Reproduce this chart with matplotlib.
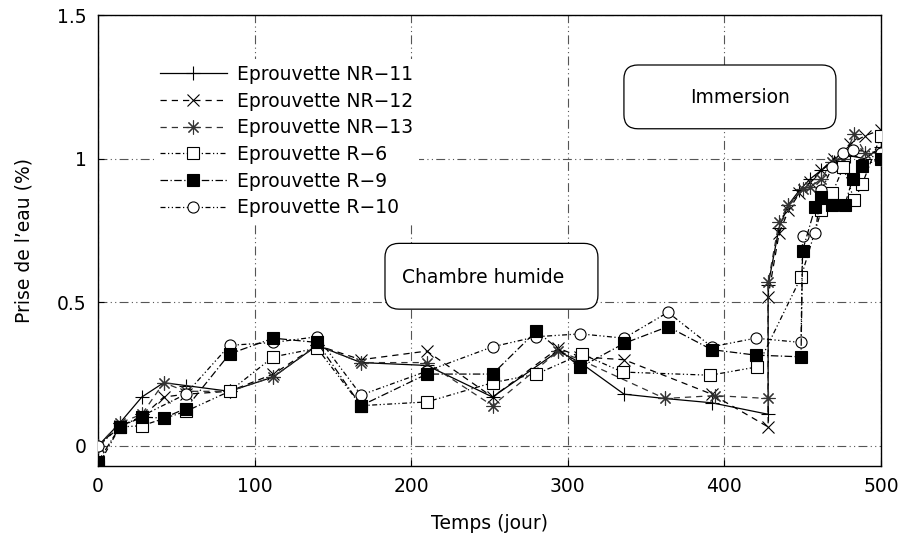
import matplotlib

matplotlib.use("Agg")

import matplotlib.pyplot as plt
from matplotlib.patches import FancyBboxPatch

plt.rcParams["font.family"] = ["DejaVu Sans"]

# --- data -------------------------------------------------------------------
nr11_days = [0, 14, 28, 42, 56, 84, 112, 140, 168, 210, 252, 294, 308, 336, 362, 392, 428,
             428, 435, 441, 448, 455, 462, 470, 480, 490, 500]
nr11_vals = [0.0, 0.08, 0.17, 0.22, 0.21, 0.19, 0.24, 0.35, 0.29, 0.28, 0.17, 0.33, 0.29, 0.18,
             0.165, 0.15, 0.11, 0.56, 0.76, 0.84, 0.89, 0.93, 0.96, 0.99, 1.01, 1.0, 1.04]

nr12_days = [0, 14, 28, 42, 56, 84, 112, 140, 168, 210, 252, 294, 308, 336, 392, 428,
             428, 435, 441, 448, 455, 462, 470, 480, 490, 500]
nr12_vals = [0.0, 0.07, 0.1, 0.17, 0.18, 0.19, 0.25, 0.35, 0.3, 0.33, 0.17, 0.34, 0.31, 0.3,
             0.18, 0.066, 0.52, 0.74, 0.82, 0.88, 0.92, 0.96, 1.0, 1.05, 1.08, 1.1]

nr13_days = [0, 14, 28, 42, 56, 84, 112, 140, 168, 210, 252, 294, 308, 362, 394, 428,
             428, 435, 441, 450, 455, 462, 469, 476, 483, 490, 500]
nr13_vals = [0.0, 0.08, 0.11, 0.22, 0.19, 0.19, 0.24, 0.35, 0.29, 0.29, 0.14, 0.33, 0.3,
             0.165, 0.175, 0.165, 0.57, 0.78, 0.84, 0.895, 0.9, 0.93, 0.99, 1.0, 1.085, 1.02, 1.0]

r6_days = [0, 14, 28, 56, 84, 112, 140, 168, 210, 252, 280, 309, 335, 391, 421, 449,
           462, 469, 476, 483, 488, 500]
r6_vals = [-0.07, 0.066, 0.07, 0.12, 0.19, 0.31, 0.34, 0.14, 0.153, 0.22, 0.25, 0.32, 0.257,
           0.246, 0.275, 0.587, 0.82, 0.88, 0.97, 0.855, 0.91, 1.08]

r9_days = [0, 14, 28, 42, 56, 84, 112, 140, 168, 210, 252, 280, 308, 336, 364, 392, 420, 449,
           450, 458, 462, 469, 477, 482, 488, 500]
r9_vals = [-0.055, 0.066, 0.1, 0.097, 0.13, 0.32, 0.375, 0.36, 0.14, 0.25, 0.25, 0.4, 0.274,
           0.357, 0.415, 0.335, 0.316, 0.31, 0.68, 0.83, 0.865, 0.84, 0.84, 0.93, 0.975, 1.0]

r10_days = [0, 14, 56, 84, 112, 140, 168, 210, 252, 280, 308, 336, 364, 392, 420, 449,
            450, 458, 462, 469, 476, 482, 500]
r10_vals = [0.0, 0.066, 0.18, 0.35, 0.36, 0.38, 0.177, 0.26, 0.345, 0.38, 0.39, 0.375, 0.465,
            0.345, 0.375, 0.36, 0.73, 0.74, 0.89, 0.97, 1.02, 1.03, 1.02]

series = [
    ("Eprouvette NR\u221211", nr11_days, nr11_vals),
    ("Eprouvette NR\u221212", nr12_days, nr12_vals),
    ("Eprouvette NR\u221213", nr13_days, nr13_vals),
    ("Eprouvette R\u22126", r6_days, r6_vals),
    ("Eprouvette R\u22129", r9_days, r9_vals),
    ("Eprouvette R\u221210", r10_days, r10_vals),
]

styles = [
    dict(color="black", linestyle="-", marker="+", markersize=10, mfc="none"),
    dict(color="black", linestyle=(0, (5, 4)), marker="x", markersize=8, mfc="none"),
    dict(color="#333333", linestyle=(0, (5, 4)), marker=(8, 2, 0), markersize=10, mfc="none"),
    dict(color="black", linestyle=(0, (4, 2, 1, 2, 1, 2)), marker="s", markersize=8, mfc="white"),
    dict(color="black", linestyle=(0, (6, 2, 1, 2)), marker="s", markersize=8, mfc="black"),
    dict(color="black", linestyle=(0, (4, 2, 1, 2, 1, 2)), marker="o", markersize=8, mfc="white"),
]
zorders = [3, 3, 3, 4, 6, 5]

FS = 13.5

fig = plt.figure(figsize=(9.03, 5.44), dpi=100)
ax = fig.add_axes([0.1085, 0.1434, 0.867, 0.829])

for (label, days, vals), style, z in zip(series, styles, zorders):
    ax.plot(days, vals, label=label, linewidth=0.9, markeredgewidth=0.8, zorder=z, **style)

ax.set_xlim(0, 500)
ax.set_ylim(-0.07, 1.5)
ax.set_xticks([0, 100, 200, 300, 400, 500])
ax.set_yticks([0, 0.5, 1, 1.5])
ax.set_yticklabels(["0", "0.5", "1", "1.5"])
ax.tick_params(labelsize=FS, direction="in", length=4, pad=8)
ax.grid(True, color="#555555", linestyle=(0, (8, 3, 1, 3, 1, 3)), linewidth=0.8)
ax.set_axisbelow(True)
for spine in ax.spines.values():
    spine.set_linewidth(1.0)

ax.set_xlabel("Temps (jour)", fontsize=FS, labelpad=13)
ax.set_ylabel("Prise de l\u2019eau (%)", fontsize=FS, labelpad=17)

# rounded annotation boxes, sized in pixels -> data units
px_x = 500 / 783.0
px_y = 1.57 / 451.0
radius = 14 * px_x
boxes = [
    (335.9, 471.3, 1.104, 1.326, 410.0, 1.212, "Immersion"),
    (183.3, 319.3, 0.476, 0.705, 245.8, 0.587, "Chambre humide"),
]
for x0, x1, y0, y1, tx, ty, text in boxes:
    patch = FancyBboxPatch((x0, y0), x1 - x0, y1 - y0,
                           boxstyle=f"round,pad=0,rounding_size={radius}",
                           mutation_aspect=px_y / px_x, facecolor="white",
                           edgecolor="black", linewidth=0.9, zorder=7)
    ax.add_patch(patch)
    ax.text(tx, ty, text, ha="center", va="center", fontsize=FS, zorder=8)

leg = ax.legend(loc="upper left", bbox_to_anchor=(0.0715, 0.902), borderaxespad=0,
                fontsize=FS, frameon=True, facecolor="white", edgecolor="none",
                framealpha=1, fancybox=False, handlelength=3.6, handletextpad=0.53,
                labelspacing=0.41, borderpad=0.3)
leg.set_zorder(8)

fig.savefig("out.png", dpi=100)
